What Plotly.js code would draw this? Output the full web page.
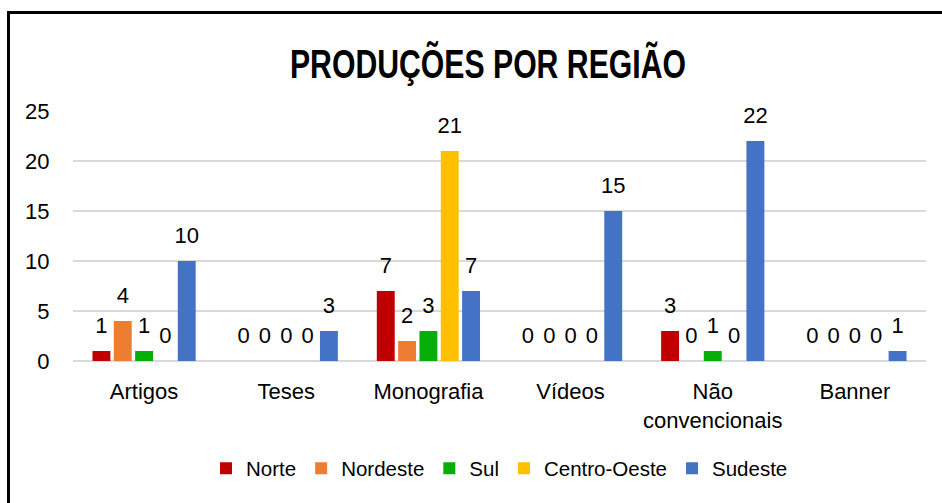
<!DOCTYPE html>
<html><head><meta charset="utf-8">
<script src="https://cdn.plot.ly/plotly-3.0.1.min.js"></script>
<style>
html,body{margin:0;padding:0;background:#fff;overflow:hidden}
#wrap{position:relative;width:942px;height:503px}
#chart{position:absolute;left:0;top:0;width:942px;height:503px}
#frame{position:absolute;left:7px;top:11px;width:1000px;height:600px;border-left:3px solid #000;border-top:3px solid #000;pointer-events:none}
</style></head>
<body><div id="wrap"><div id="chart"></div><div id="frame"></div></div>
<script>
const categories = ["Artigos","Teses","Monografia","Vídeos","Não<br>convencionais","Banner"];
const seriesNames = ["Norte","Nordeste","Sul","Centro-Oeste","Sudeste"];
const norte = [1,0,7,0,3,0];
const nordeste = [4,0,2,0,0,0];
const sul = [1,0,3,0,1,0];
const centroOeste = [0,0,21,0,0,0];
const sudeste = [10,3,7,15,22,1];
const yTicks = [0,5,10,15,20,25];
const colors = ["#C00000","#ED7D31","#08AE08","#FFC000","#4472C4"];
const values = [norte,nordeste,sul,centroOeste,sudeste];
const FONT = "Liberation Sans, Arial, sans-serif";

const traces = values.map((v,i)=>({
  type:"bar", name:seriesNames[i], x:categories, y:v,
  marker:{color:colors[i]},
  text:v.map(String), textposition:"outside", cliponaxis:false, constraintext:"none",
  textfont:{family:FONT, size:22, color:"#000"}
}));

const layout = {
  width:942, height:503,
  margin:{l:73, r:16, t:111, b:142},
  paper_bgcolor:"#fff", plot_bgcolor:"#fff",
  title:{text:"<b>PRODUÇÕES POR REGIÃO</b>", x:0.518, xanchor:"center", y:0.873, yanchor:"middle",
    font:{family:FONT, size:40, color:"#000"}},
  barmode:"group", bargap:0.25, bargroupgap:0.16,
  xaxis:{showline:false, ticks:"outside", ticklen:11, tickcolor:"rgba(0,0,0,0)",
    tickfont:{family:FONT, size:22, color:"#000"}, showgrid:false, zeroline:false},
  yaxis:{range:[0,25], tickvals:yTicks, showgrid:true, gridcolor:"#d9d9d9", gridwidth:2, zeroline:true, zerolinecolor:"#d9d9d9", zerolinewidth:2,
    ticks:"outside", ticklen:18, tickcolor:"rgba(0,0,0,0)", tickfont:{family:FONT, size:22, color:"#000"}, showline:false},
  showlegend:true,
  legend:{orientation:"h", x:0.5, xanchor:"center", y:-0.43, yanchor:"middle",
    font:{family:FONT, size:20.5, color:"#000"}, itemwidth:30, traceorder:"normal"}
};
Plotly.newPlot("chart", traces, layout, {displayModeBar:false, staticPlot:true}).then(gd=>{
  const t = gd.querySelector(".gtitle");
  if(t){ t.setAttribute("textLength","396"); t.setAttribute("lengthAdjust","spacingAndGlyphs"); }
  gd.querySelectorAll(".bars .bartext").forEach(el=>{
    el.setAttribute("transform", (el.getAttribute("transform")||"") + " translate(0,-10)");
  });
});
</script></body></html>
